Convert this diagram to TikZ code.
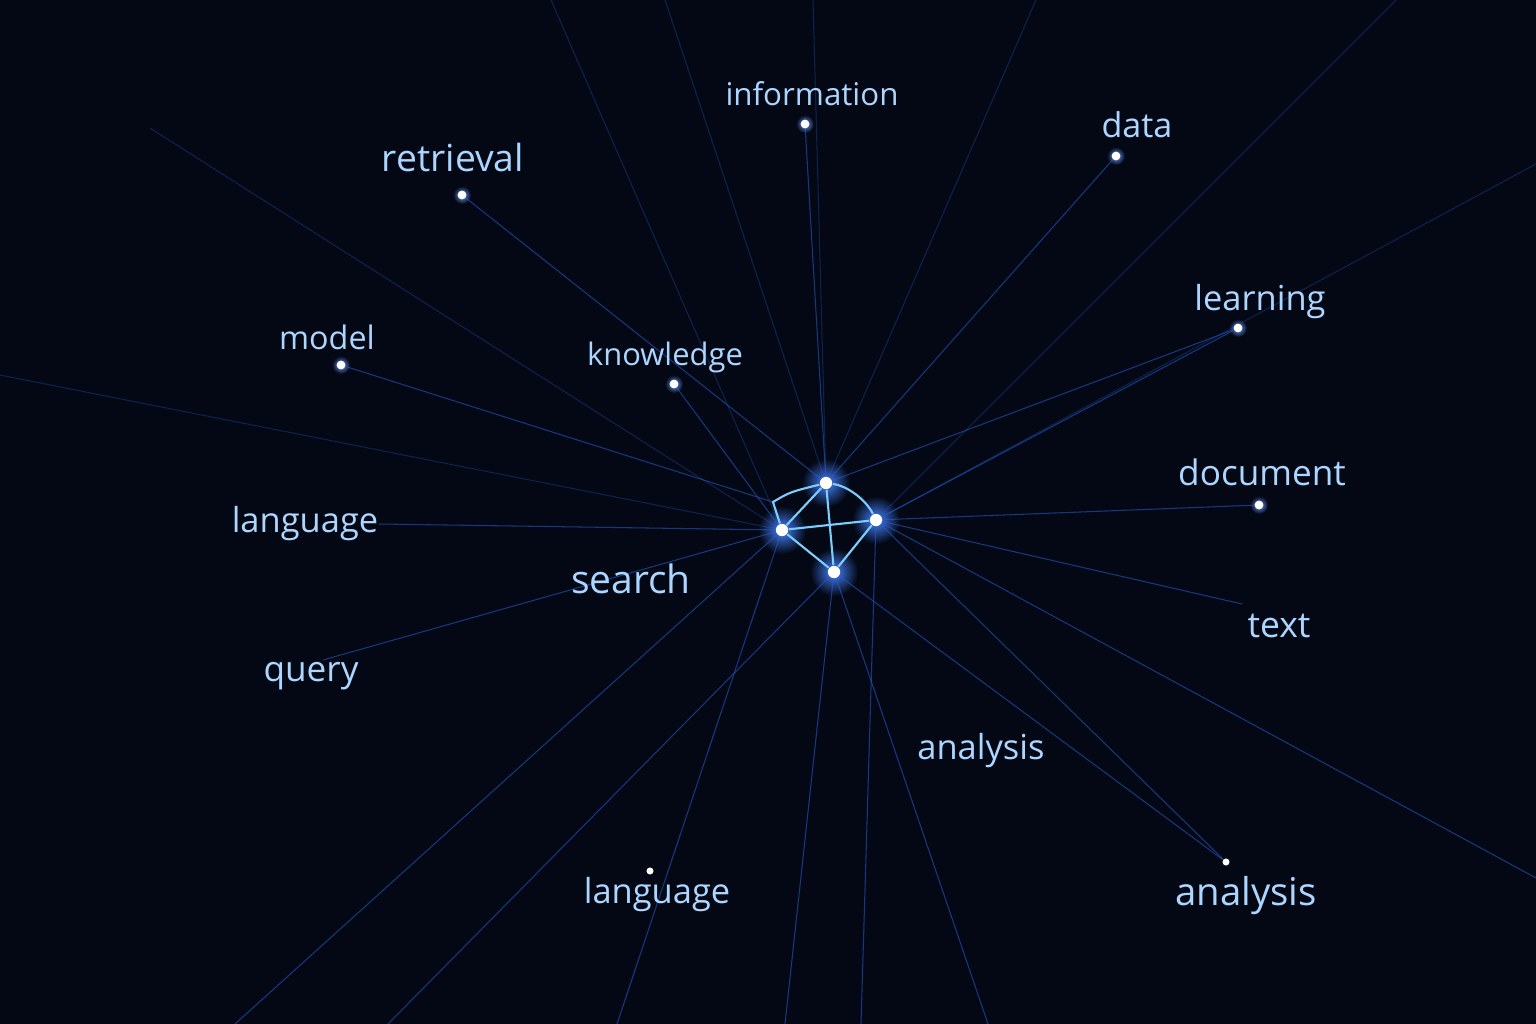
\documentclass[tikz,border=0pt]{standalone}
\usepackage{fontspec}
\setmainfont{Open Sans}
\definecolor{nightbg}{RGB}{3,8,20}
\definecolor{wordblue}{RGB}{172,214,255}
\definecolor{raybl}{RGB}{40,95,215}
\definecolor{linkbl}{RGB}{125,205,255}
\definecolor{glowbl}{RGB}{70,130,255}
\pgfdeclarelayer{back}
\pgfsetlayers{back,main}
\tikzset{
  word/.style={text=wordblue, inner sep=0pt, font=\fontsize{#1pt}{#1pt}\selectfont},
  hub/.style={circle, fill=white, inner sep=0pt, minimum size=3.5pt},
  spark/.style={circle, fill=white, inner sep=0pt, minimum size=2.5pt},
  ray/.style={raybl, line width=0.3pt, opacity=0.55},
  faintray/.style={raybl, line width=0.3pt, opacity=0.3},
  link/.style={linkbl, line width=0.6pt},
}
\begin{document}
\begin{tikzpicture}[x=0.01cm, y=-0.01cm]
  \useasboundingbox (0,0) rectangle (1536,1024);

  % central cluster
  \node[hub] (hA) at (826,483) {};
  \node[hub] (hB) at (782,530) {};
  \node[hub] (hC) at (876,520) {};
  \node[hub] (hD) at (834,572) {};
  \coordinate (kink) at (773,502);

  % dots beside the words
  \node[spark] (pInfo)  at (805,124) {};
  \node[spark] (pData)  at (1116,156) {};
  \node[spark] (pRetr)  at (462,195) {};
  \node[spark] (pLearn) at (1238,328) {};
  \node[spark] (pModel) at (341,365) {};
  \node[spark] (pKnow)  at (674,384) {};
  \node[spark] (pDoc)   at (1259,505) {};
  \node[spark, minimum size=2pt] (pLang) at (650,871) {};
  \node[spark, minimum size=2pt] (pAnal) at (1226,862) {};

  % words
  \node[word=8.9]  (information) at (812,94)  {information};
  \node[word=9.7]  (data)        at (1137,125) {data};
  \node[word=10.6] (retrieval)   at (453,158) {retrieval};
  \node[word=9.8]  (learning)    at (1260,302) {learning};
  \node[word=9.2]  (model)       at (327,337) {model};
  \node[word=8.8]  (knowledge)   at (665,357) {knowledge};
  \node[word=9.8]  (languageA)   at (305,524) {language};
  \node[word=10.0] (document)    at (1262,472) {document};
  \node[word=11.1] (search)      at (631,579) {search};
  \node[word=10.1] (text)        at (1279,626) {text};
  \node[word=10.0] (query)       at (311,676) {query};
  \node[word=9.8]  (analysisA)   at (981,751) {analysis};
  \node[word=9.8]  (languageB)   at (657,895) {language};
  \node[word=10.9] (analysisB)   at (1246,896) {analysis};

  % free ends of the rays
  \coordinate (eN0) at (551,0);
  \coordinate (eN1) at (665,0);
  \coordinate (eN2) at (813,0);
  \coordinate (eN3) at (1036,0);
  \coordinate (eN4) at (1396,0);
  \coordinate (eNE) at (1536,164);
  \coordinate (eNW) at (150,128);
  \coordinate (eW1) at (0,375);
  \coordinate (eQ)  at (323,660);
  \coordinate (eT)  at (1242,604);
  \coordinate (eE)  at (1536,878);
  \coordinate (eS1) at (235,1024);
  \coordinate (eS0) at (388,1024);
  \coordinate (eS2) at (617,1024);
  \coordinate (eS3) at (785,1024);
  \coordinate (eS4) at (861,1024);
  \coordinate (eS5) at (988,1024);

  \begin{pgfonlayer}{back}
    \fill[nightbg] (0,0) rectangle (1536,1024);
    \foreach \h in {hA,hB,hC,hD}
      \shade[inner color=glowbl, outer color=nightbg] (\h) circle (24);
    \foreach \p in {pInfo,pData,pRetr,pLearn,pModel,pKnow,pDoc}
      \shade[inner color=glowbl!80, outer color=nightbg] (\p) circle (9);

    % rays to the words
    \foreach \a/\b in {hA/pInfo, hA/pData, hA/pLearn, hA/pRetr,
                       kink/pModel, hB/pKnow, hB/languageA.east, hB/eQ,
                       hC/pDoc, hC/pLearn, hC/eT, hC/pAnal, hC/eS4, hC/eE,
                       hD/pAnal, hD/eS5, hD/eS3, hB/eS2, hB/eS1, hD/eS0}
      \draw[ray] (\a) -- (\b);
    % rays out of the picture
    \foreach \a/\b in {hB/eN0, hA/eN1, hA/eN2, hA/eN3, hC/eN4, hC/eNE,
                       hB/eNW, hB/eW1}
      \draw[faintray] (\a) -- (\b);
  \end{pgfonlayer}

  % links of the cluster
  \draw[link] (hB) -- (kink) .. controls (790,492) .. (hA);
  \draw[link] (hA) .. controls (848,486) and (866,500) .. (hC);
  \draw[link] (hB) -- (hA);
  \draw[link] (hB) -- (hC);
  \draw[link] (hA) -- (hD);
  \draw[link] (hB) -- (hD);
  \draw[link] (hC) -- (hD);
\end{tikzpicture}
\end{document}
